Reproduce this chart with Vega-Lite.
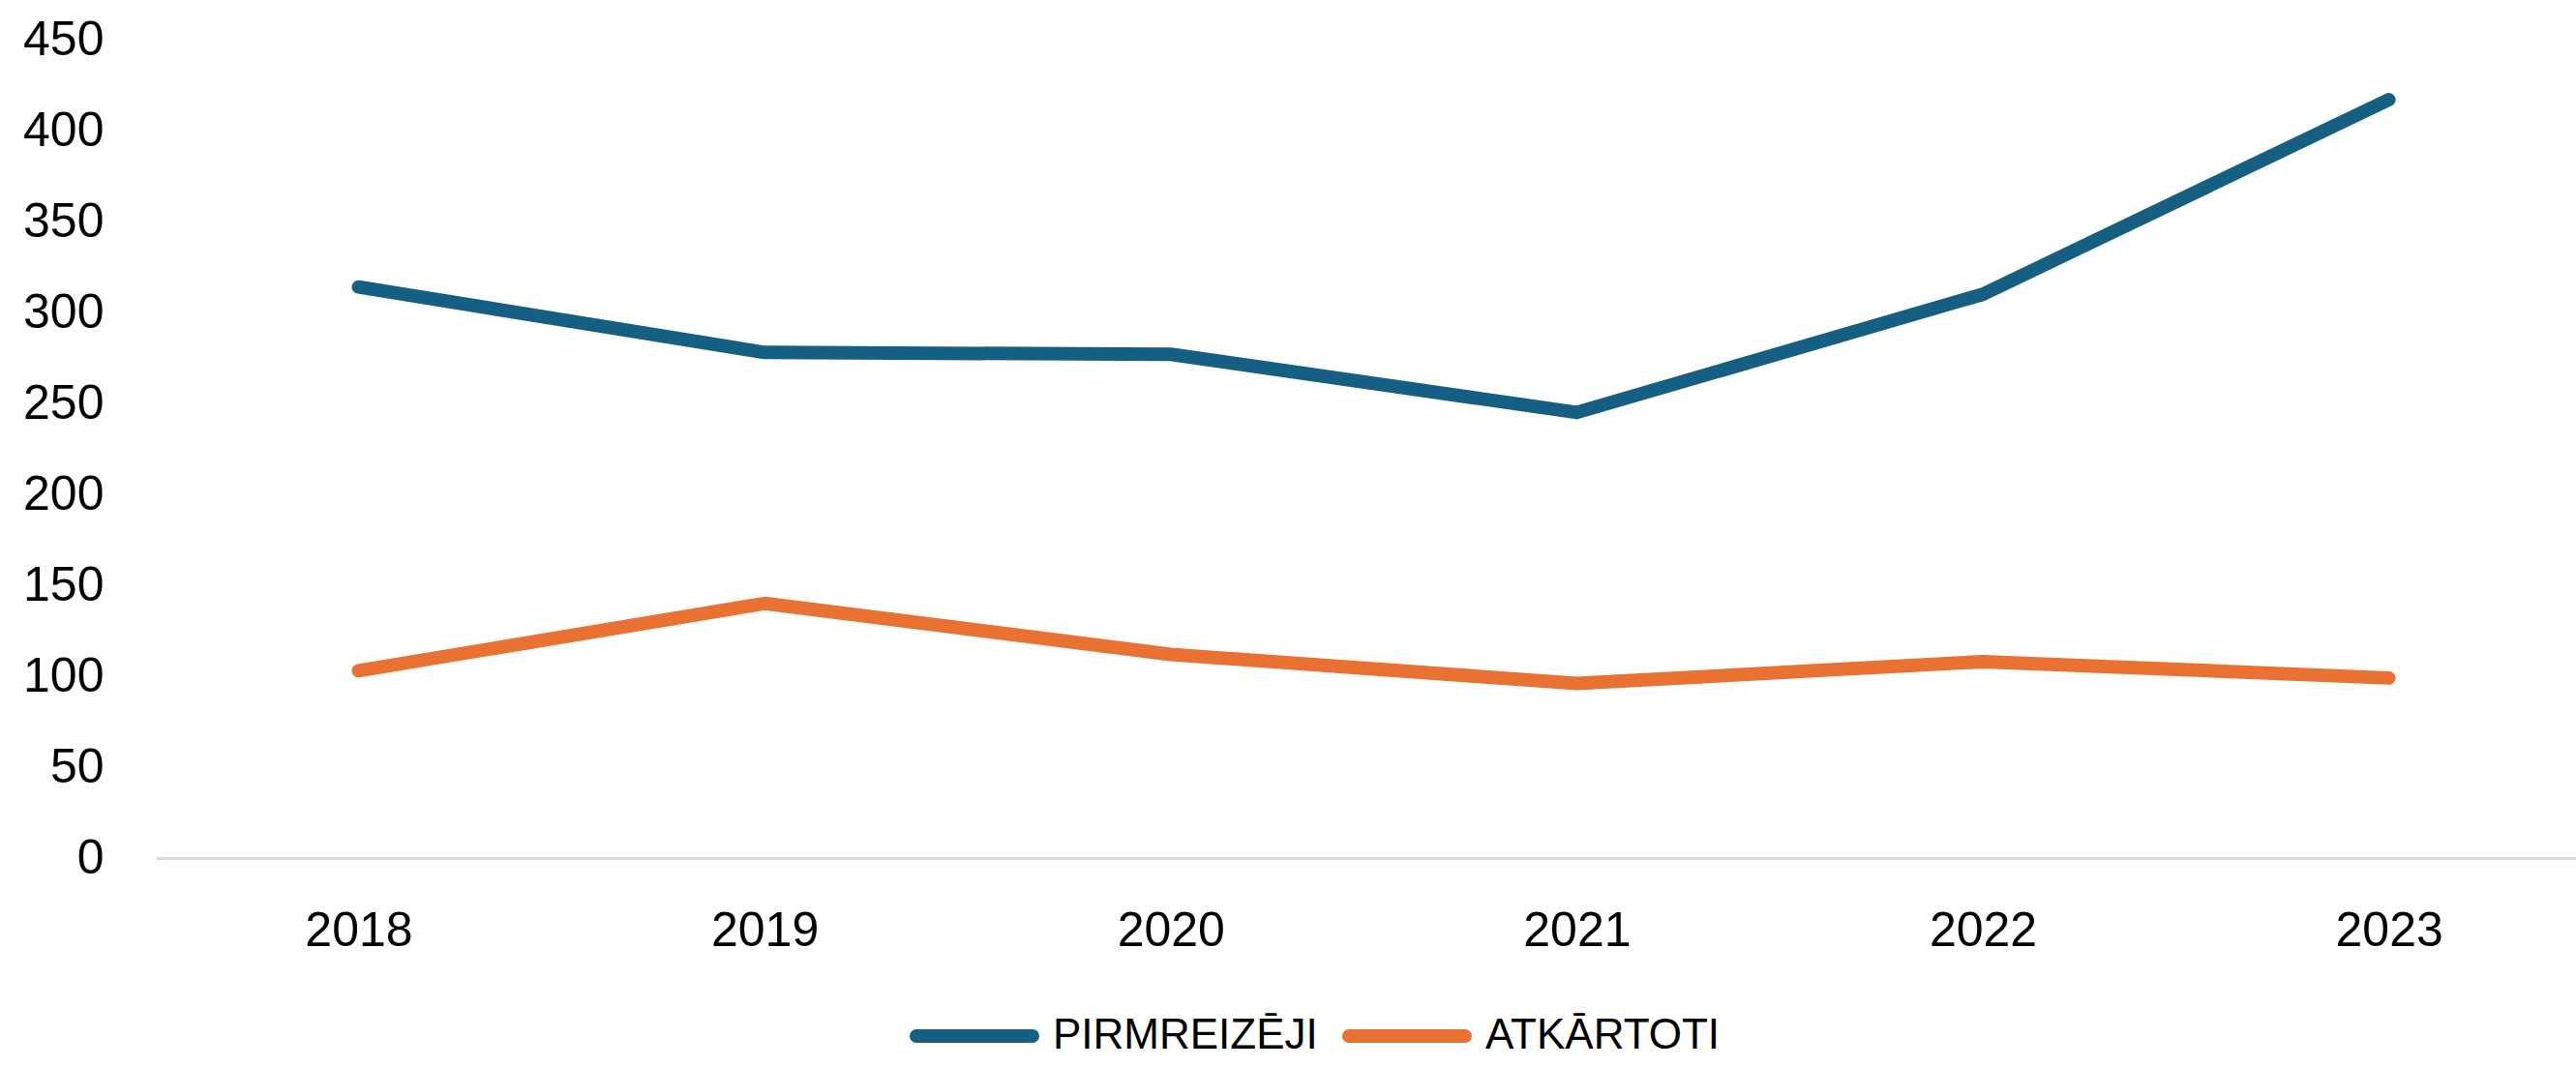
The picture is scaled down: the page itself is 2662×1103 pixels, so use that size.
{
  "$schema": "https://vega.github.io/schema/vega-lite/v6.json",
  "autosize": {"type": "none"},
  "padding": {"left": 161, "top": 41, "right": 0, "bottom": 216},
  "width": 2501,
  "height": 846,
  "background": "white",
  "config": {"view": {"stroke": null}, "font": "Liberation Sans"},
  "data": {
    "values": [
      {"year": "2018", "series": "PIRMREIZĒJI", "value": 314},
      {"year": "2019", "series": "PIRMREIZĒJI", "value": 278},
      {"year": "2020", "series": "PIRMREIZĒJI", "value": 277},
      {"year": "2021", "series": "PIRMREIZĒJI", "value": 245},
      {"year": "2022", "series": "PIRMREIZĒJI", "value": 310},
      {"year": "2023", "series": "PIRMREIZĒJI", "value": 417},
      {"year": "2018", "series": "ATKĀRTOTI", "value": 103},
      {"year": "2019", "series": "ATKĀRTOTI", "value": 140},
      {"year": "2020", "series": "ATKĀRTOTI", "value": 112},
      {"year": "2021", "series": "ATKĀRTOTI", "value": 96},
      {"year": "2022", "series": "ATKĀRTOTI", "value": 108},
      {"year": "2023", "series": "ATKĀRTOTI", "value": 99}
    ]
  },
  "mark": {"type": "line", "strokeWidth": 14, "strokeCap": "round", "strokeJoin": "round"},
  "encoding": {
    "x": {
      "field": "year", "type": "ordinal",
      "scale": {"type": "point", "padding": 0.48, "align": 0.52},
      "axis": {"title": null, "labelAngle": 0, "ticks": false, "grid": false, "domainColor": "#d9d9d9", "domainWidth": 3, "labelFontSize": 50, "labelColor": "#000000", "labelPadding": 50, "labelFont": "Liberation Sans"}
    },
    "y": {
      "field": "value", "type": "quantitative",
      "scale": {"domain": [0, 450], "nice": false},
      "axis": {"title": null, "values": [0, 50, 100, 150, 200, 250, 300, 350, 400, 450], "grid": false, "domain": false, "ticks": false, "labelFontSize": 50, "labelColor": "#000000", "labelPadding": 54, "labelFont": "Liberation Sans"}
    },
    "color": {
      "field": "series", "type": "nominal",
      "scale": {"domain": ["PIRMREIZĒJI", "ATKĀRTOTI"], "range": ["#156082", "#E97132"]},
      "legend": {
        "title": null, "orient": "none", "direction": "horizontal",
        "legendX": 779, "legendY": 963, "padding": 0,
        "symbolType": "stroke", "symbolSize": 14400, "symbolStrokeWidth": 14,
        "labelFontSize": 44, "labelFont": "Liberation Sans", "labelColor": "#000000", "labelLimit": 0,
        "labelOffset": 14, "columnPadding": 4,
        "encode": {"symbols": {"update": {"strokeCap": {"value": "round"}}}}
      }
    }
  }
}
